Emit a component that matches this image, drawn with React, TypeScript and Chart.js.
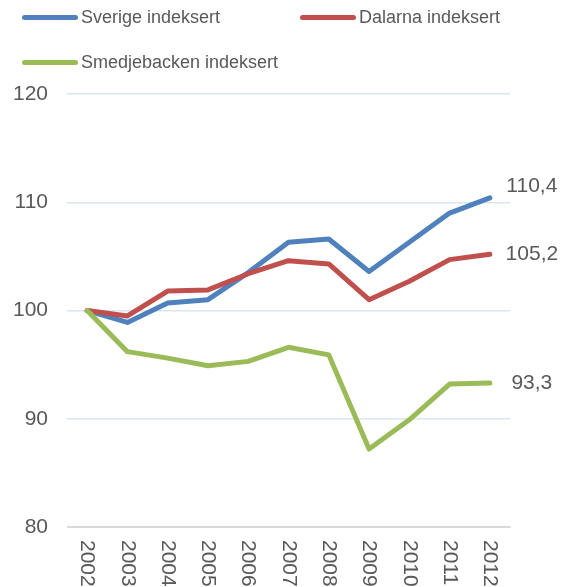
import React, { useEffect, useRef } from "react";
import { Chart, registerables } from "chart.js";

Chart.register(...registerables);

const years = ["2002", "2003", "2004", "2005", "2006", "2007", "2008", "2009", "2010", "2011", "2012"];
const sverige = [100, 98.9, 100.7, 101.0, 103.5, 106.3, 106.6, 103.6, 106.3, 109.0, 110.4];
const dalarna = [100, 99.5, 101.8, 101.9, 103.4, 104.6, 104.3, 101.0, 102.7, 104.7, 105.2];
const smedjebacken = [100, 96.2, 95.6, 94.9, 95.3, 96.6, 95.9, 87.2, 89.9, 93.2, 93.3];
const seriesNames = ["Sverige indeksert", "Dalarna indeksert", "Smedjebacken indeksert"];
const endLabels = ["110,4", "105,2", "93,3"];
const yTicks = [80, 90, 100, 110, 120];

const COLORS = ["#4F81BD", "#C0504D", "#9BBB59"];
const TEXT = "#595959";
const FONT = "'Liberation Sans', Arial, sans-serif";
const labelDy = [-12, 0, 0];

const overlayPlugin = {
  id: "overlay",
  afterDraw(chart: any) {
    const ctx = chart.ctx;
    const x = chart.scales.x;
    const area = chart.chartArea;
    ctx.save();
    ctx.fillStyle = TEXT;
    ctx.font = `21px ${FONT}`;
    // rotated x labels (clockwise)
    years.forEach((lab, i) => {
      const px = x.getPixelForValue(i);
      ctx.save();
      ctx.translate(px, area.bottom + 13);
      ctx.rotate(Math.PI / 2);
      ctx.textAlign = "left";
      ctx.textBaseline = "middle";
      ctx.fillText(lab, 0, 0);
      ctx.restore();
    });
    // end labels
    chart.data.datasets.forEach((ds: any, di: number) => {
      const meta = chart.getDatasetMeta(di);
      const pt = meta.data[meta.data.length - 1];
      ctx.textAlign = "center";
      ctx.textBaseline = "middle";
      ctx.fillText(endLabels[di], pt.x + 42, pt.y + labelDy[di]);
    });
    ctx.restore();
  },
};

export default function App() {
  const ref = useRef<HTMLCanvasElement | null>(null);
  useEffect(() => {
    if (!ref.current) return;
    const datasets = [sverige, dalarna, smedjebacken].map((d, i) => ({
      label: seriesNames[i],
      data: d,
      borderColor: COLORS[i],
      backgroundColor: COLORS[i],
      borderWidth: 5,
      pointRadius: 0,
      tension: 0,
      borderCapStyle: "round" as const,
      borderJoinStyle: "round" as const,
      order: 2 - i,
    }));
    const chart = new Chart(ref.current, {
      type: "line",
      data: { labels: years, datasets },
      options: {
        responsive: false,
        animation: false,
        devicePixelRatio: 1,
        layout: { padding: { top: 94, left: 0, right: 55, bottom: 0 } },
        plugins: { legend: { display: false }, tooltip: { enabled: false } },
        scales: {
          x: {
            offset: true,
            grid: { display: false },
            border: { display: true, color: "#D9D9D9", width: 1 },
            ticks: { display: false },
            afterFit: (s: any) => {
              s.height = 60;
            },
          },
          y: {
            min: 80,
            max: 120,
            afterBuildTicks: (s: any) => {
              s.ticks = yTicks.map((v) => ({ value: v }));
            },
            border: { display: false },
            grid: {
              drawTicks: false,
              color: (c: any) => (c.tick && c.tick.value === 80 ? "#D9D9D9" : "#DCE6F2"),
              lineWidth: 1.5,
            },
            ticks: {
              color: TEXT,
              font: { size: 21, family: FONT },
              padding: 19,
            },
            afterFit: (s: any) => {
              s.width = 67;
            },
          },
        },
      },
      plugins: [overlayPlugin],
    });
    return () => chart.destroy();
  }, []);

  const legendPos = [
    { left: 22, top: 17 },
    { left: 300, top: 17 },
    { left: 22, top: 62 },
  ];

  return (
    <div style={{ position: "absolute", left: 0, top: 0, width: 565, height: 587, background: "#fff", overflow: "hidden" }}>
      <canvas ref={ref} width={565} height={587} style={{ position: "absolute", left: 0, top: 0 }} />
      {seriesNames.map((n, i) => (
        <div
          key={n}
          style={{
            position: "absolute",
            left: legendPos[i].left,
            top: legendPos[i].top - 12,
            height: 24,
            display: "flex",
            alignItems: "center",
            fontFamily: FONT,
            fontSize: 18,
            color: TEXT,
            whiteSpace: "nowrap",
          }}
        >
          <span style={{ display: "inline-block", width: 56, height: 5, borderRadius: 3, background: COLORS[i], marginRight: 3 }} />
          <span>{n}</span>
        </div>
      ))}
    </div>
  );
}
